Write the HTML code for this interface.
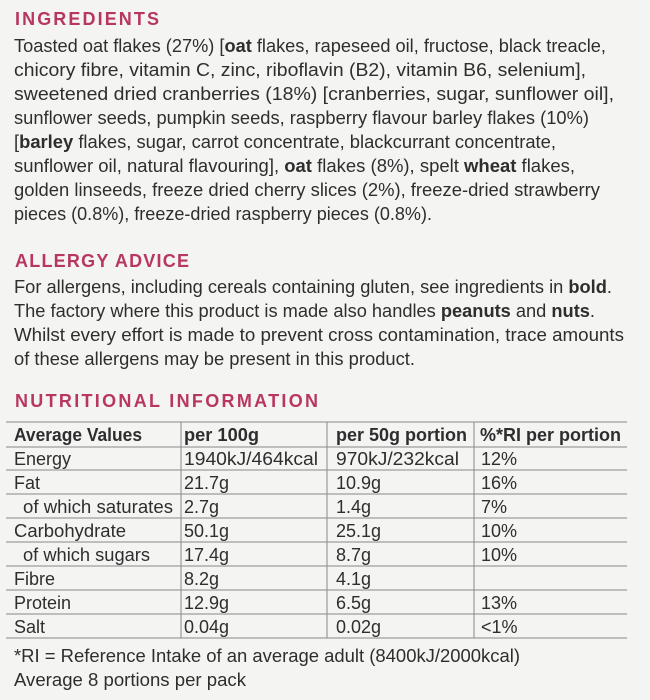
<!DOCTYPE html>
<html><head><meta charset="utf-8"><style>
html,body{margin:0;padding:0;background:#f4f4f3;}
svg{display:block}
text{font-family:"Liberation Sans",sans-serif;fill:#2e2e2e;font-size:18px}
.h{fill:#b8375f;font-weight:bold;font-size:18px;letter-spacing:1px}
.b{font-weight:bold}
</style></head><body>
<svg width="650" height="700" viewBox="0 0 650 700" xmlns="http://www.w3.org/2000/svg">
<rect width="650" height="700" fill="#f4f4f3"/>
<text class="h" x="15" y="25" textLength="145" lengthAdjust="spacing">INGREDIENTS</text>
<text x="14" y="52" textLength="592" lengthAdjust="spacingAndGlyphs">Toasted oat flakes (27%) [<tspan class="b">oat</tspan> flakes, rapeseed oil, fructose, black treacle,</text>
<text x="14" y="76" textLength="572" lengthAdjust="spacingAndGlyphs">chicory fibre, vitamin C, zinc, riboflavin (B2), vitamin B6, selenium],</text>
<text x="14" y="100" textLength="600" lengthAdjust="spacingAndGlyphs">sweetened dried cranberries (18%) [cranberries, sugar, sunflower oil],</text>
<text x="14" y="124" textLength="575" lengthAdjust="spacingAndGlyphs">sunflower seeds, pumpkin seeds, raspberry flavour barley flakes (10%)</text>
<text x="14" y="148" textLength="542" lengthAdjust="spacingAndGlyphs">[<tspan class="b">barley</tspan> flakes, sugar, carrot concentrate, blackcurrant concentrate,</text>
<text x="14" y="172" textLength="561" lengthAdjust="spacingAndGlyphs">sunflower oil, natural flavouring], <tspan class="b">oat</tspan> flakes (8%), spelt <tspan class="b">wheat</tspan> flakes,</text>
<text x="14" y="196" textLength="586" lengthAdjust="spacingAndGlyphs">golden linseeds, freeze dried cherry slices (2%), freeze-dried strawberry</text>
<text x="14" y="220" textLength="418" lengthAdjust="spacingAndGlyphs">pieces (0.8%), freeze-dried raspberry pieces (0.8%).</text>

<text class="h" x="15" y="267" textLength="175" lengthAdjust="spacing">ALLERGY ADVICE</text>
<text x="14" y="293" textLength="598" lengthAdjust="spacingAndGlyphs">For allergens, including cereals containing gluten, see ingredients in <tspan class="b">bold</tspan>.</text>
<text x="14" y="317" textLength="581" lengthAdjust="spacingAndGlyphs">The factory where this product is made also handles <tspan class="b">peanuts</tspan> and <tspan class="b">nuts</tspan>.</text>
<text x="14" y="341" textLength="610" lengthAdjust="spacingAndGlyphs">Whilst every effort is made to prevent cross contamination, trace amounts</text>
<text x="14" y="365" textLength="401" lengthAdjust="spacingAndGlyphs">of these allergens may be present in this product.</text>

<text class="h" x="15" y="407" textLength="304" lengthAdjust="spacing">NUTRITIONAL INFORMATION</text>

<g stroke="#888" stroke-width="1">
<line x1="6" y1="422" x2="627" y2="422"/>
<line x1="6" y1="447" x2="627" y2="447"/>
<line x1="6" y1="470" x2="627" y2="470"/>
<line x1="6" y1="494" x2="627" y2="494"/>
<line x1="6" y1="518" x2="627" y2="518"/>
<line x1="6" y1="542" x2="627" y2="542"/>
<line x1="6" y1="566" x2="627" y2="566"/>
<line x1="6" y1="590" x2="627" y2="590"/>
<line x1="6" y1="614" x2="627" y2="614"/>
<line x1="6" y1="638" x2="627" y2="638"/>
<line x1="181" y1="422" x2="181" y2="638"/>
<line x1="327" y1="422" x2="327" y2="638"/>
<line x1="474" y1="422" x2="474" y2="638"/>
</g>
<g>
<text class="b" x="14" y="441" textLength="128" lengthAdjust="spacingAndGlyphs">Average Values</text>
<text class="b" x="184" y="441" textLength="75" lengthAdjust="spacingAndGlyphs">per 100g</text>
<text class="b" x="336" y="441" textLength="131" lengthAdjust="spacingAndGlyphs">per 50g portion</text>
<text class="b" x="480" y="441" textLength="141" lengthAdjust="spacingAndGlyphs">%*RI per portion</text>

<text x="14" y="465" textLength="57" lengthAdjust="spacingAndGlyphs">Energy</text>
<text x="184" y="465" textLength="134" lengthAdjust="spacingAndGlyphs">1940kJ/464kcal</text>
<text x="336" y="465" textLength="123" lengthAdjust="spacingAndGlyphs">970kJ/232kcal</text>
<text x="481" y="465">12%</text>

<text x="14" y="489">Fat</text>
<text x="184" y="489">21.7g</text><text x="336" y="489">10.9g</text><text x="481" y="489">16%</text>

<text x="23" y="513" textLength="150" lengthAdjust="spacingAndGlyphs">of which saturates</text>
<text x="184" y="513">2.7g</text><text x="336" y="513">1.4g</text><text x="481" y="513">7%</text>

<text x="14" y="537" textLength="112" lengthAdjust="spacingAndGlyphs">Carbohydrate</text>
<text x="184" y="537">50.1g</text><text x="336" y="537">25.1g</text><text x="481" y="537">10%</text>

<text x="23" y="561" textLength="127" lengthAdjust="spacingAndGlyphs">of which sugars</text>
<text x="184" y="561">17.4g</text><text x="336" y="561">8.7g</text><text x="481" y="561">10%</text>

<text x="14" y="585">Fibre</text>
<text x="184" y="585">8.2g</text><text x="336" y="585">4.1g</text>

<text x="14" y="609">Protein</text>
<text x="184" y="609">12.9g</text><text x="336" y="609">6.5g</text><text x="481" y="609">13%</text>

<text x="14" y="633">Salt</text>
<text x="184" y="633">0.04g</text><text x="336" y="633">0.02g</text><text x="481" y="633">&lt;1%</text>
</g>

<text x="14" y="662" textLength="506" lengthAdjust="spacingAndGlyphs">*RI = Reference Intake of an average adult (8400kJ/2000kcal)</text>
<text x="14" y="686" textLength="232" lengthAdjust="spacingAndGlyphs">Average 8 portions per pack</text>
</svg>
</body></html>
